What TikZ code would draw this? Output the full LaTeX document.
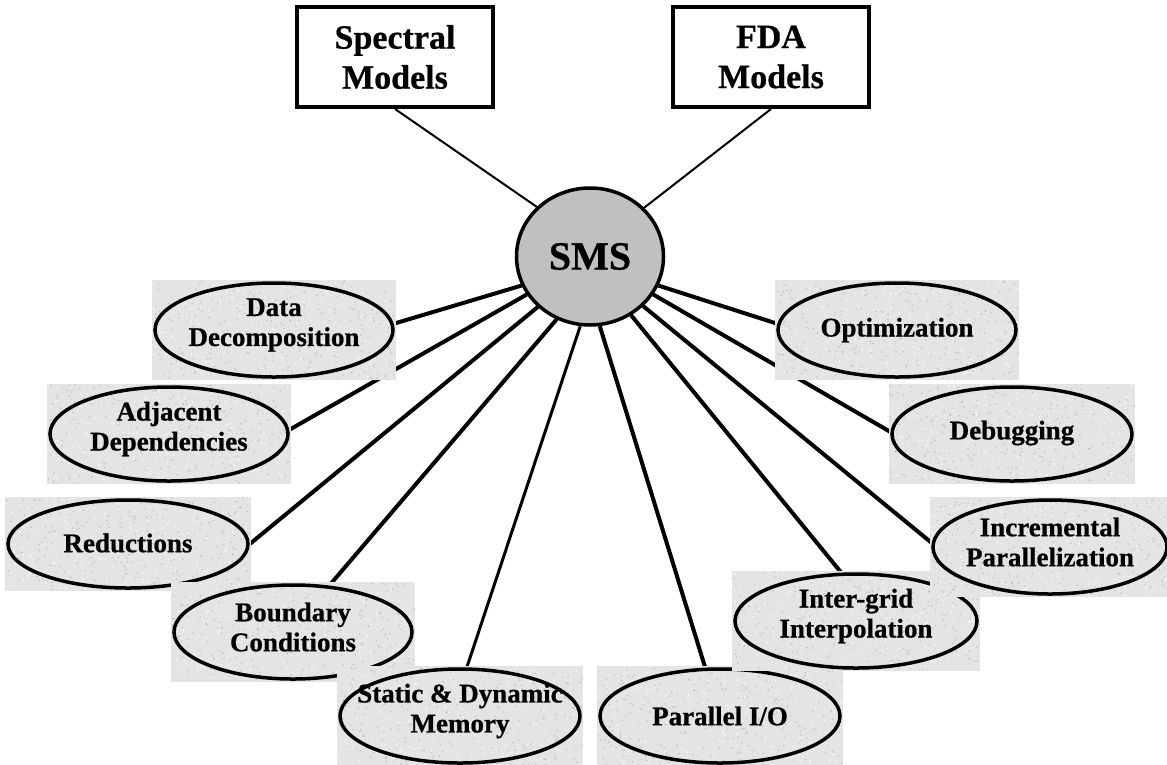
\documentclass[tikz,border=0pt]{standalone}
\usepackage{fontspec}
\setmainfont{Liberation Serif}[BoldFeatures={FakeBold=0.7}]
\usetikzlibrary{shapes.geometric}
\pgfdeclarelayer{wires}
\pgfsetlayers{wires,main}

\definecolor{tilegray}{RGB}{228,228,228}
\definecolor{hubgray}{RGB}{192,192,192}

\tikzset{
  model/.style={draw, line width=4pt, rectangle, minimum width=196, minimum height=100,
    inner sep=0pt, align=center, font=\fontsize{34}{40}\selectfont\bfseries},
  hub/.style={draw, line width=3.5pt, ellipse, fill=hubgray, minimum width=147,
    minimum height=137, inner sep=0pt, font=\fontsize{40}{48}\selectfont\bfseries},
  tile/.style={rectangle, fill=tilegray, draw=none, inner sep=0pt},
  speck/.style={fill=black!45, opacity=0.35},
  glint/.style={fill=white, opacity=0.6},
  bub/.style={draw, line width=3.5pt, ellipse, inner sep=0pt},
  bubtext/.style={inner sep=0pt, align=center, font=\fontsize{27}{30}\selectfont\bfseries},
  spoke/.style={line width=4pt},
  thinspoke/.style={line width=2pt},
}

% [label lift], name, x, y, width, height, text:
% a speckled tile, the ellipse on it, then its label
\newcommand\bubble[7][5]{%
  \node[tile, minimum width=#5+6, minimum height=#6+6] (#2-bg) at (#3,#4) {};
  \foreach \k in {1,...,260}{%
    \pgfmathsetmacro\dx{(rnd-0.5)*(#5+4)}%
    \pgfmathsetmacro\dy{(rnd-0.5)*(#6+4)}%
    \fill[speck] ([shift={(\dx,\dy)}]#2-bg.center) circle (0.9);
    \pgfmathsetmacro\ex{(rnd-0.5)*(#5+4)}%
    \pgfmathsetmacro\ey{(rnd-0.5)*(#6+4)}%
    \fill[glint] ([shift={(\ex,\ey)}]#2-bg.center) circle (1.0);
  }
  \node[bub, minimum width=#5, minimum height=#6] (#2) at (#3,#4) {};
  \node[bubtext] (#2-text) at ([yshift=#1]#2.center) {#7};}

\begin{document}
\begin{tikzpicture}[x=1pt, y=-1pt]
\pgfmathsetseed{4217}
\useasboundingbox (0,0) rectangle (1167,764);

% model boxes and hub
\node[model] (spectral) at (395,57) {Spectral\\Models};
\node[model] (fda) at (771,57) {FDA\\Models};
\node[hub] (sms) at (590,256.5) {SMS};

% topic bubbles, each on its own tile
\bubble{data}{274}{330}{238}{94}{Data\\Decomposition}
\bubble{adjacent}{169}{434}{238}{94}{Adjacent\\Dependencies}
\bubble[1]{reductions}{128}{544}{240}{88}{Reductions}
\bubble{boundary}{293}{632}{238}{94}{Boundary\\Conditions}
\bubble{static}{460}{716}{240}{94}{Static \& Dynamic\\Memory}
\bubble[0]{parallel}{720}{716}{240}{94}{Parallel I/O}
\bubble[0]{optim}{897}{330}{238}{94}{Optimization}
\bubble[1]{debug}{1012}{434}{240}{94}{Debugging}
\bubble{intergrid}{856}{621}{242}{94}{Inter-grid\\Interpolation}
\bubble{incremental}{1050}{547}{234}{94}{Incremental\\Parallelization}

% connectors, kept beneath the shapes
\begin{pgfonlayer}{wires}
\draw[thinspoke] (spectral.south) -- (sms.137);
\draw[thinspoke] (fda.south) -- (sms.42);
\draw[spoke] (sms.203) -- (data.3);
\draw[spoke] (sms.211) -- (adjacent.2);
\draw[spoke] (sms.224) -- (reductions.east);
\draw[spoke] (sms.242) -- (boundary.52);
\draw[line width=3pt] (sms.262) -- (static.82);
\draw[spoke] (sms.278) -- (parallel.107);
\draw[spoke] (sms.305) -- (intergrid.107);
\draw[spoke] (sms.317) -- (incremental.178);
\draw[spoke] (sms.329) -- (debug.179);
\draw[spoke] (sms.337) -- (optim.177);
\end{pgfonlayer}
\end{tikzpicture}
\end{document}
